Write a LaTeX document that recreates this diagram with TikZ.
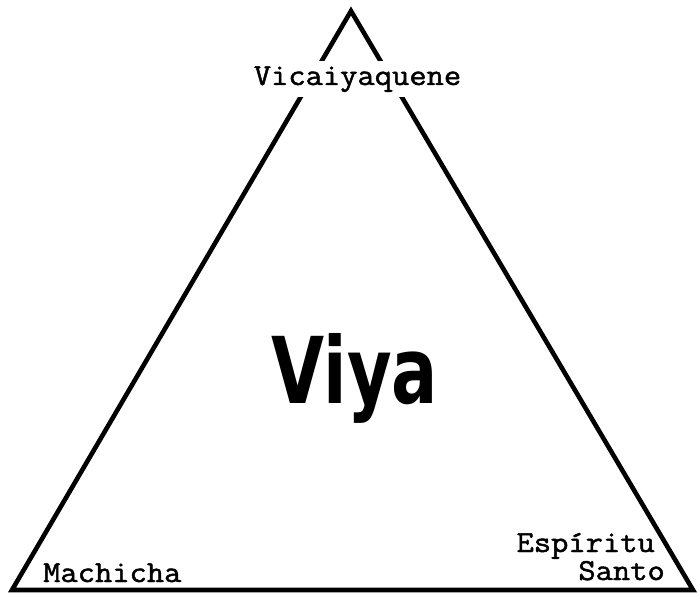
\documentclass[tikz,border=0pt]{standalone}
\usepackage{fontspec}
\newfontfamily\lblfont{Latin Modern Mono}[FakeBold=1.6, FakeStretch=1.1]
\newfontfamily\viyafont{DejaVu Sans Condensed}
\begin{document}
\begin{tikzpicture}[x=1pt,y=-1pt,
  lbl/.style={font=\lblfont\fontsize{30.5}{34}\selectfont, inner sep=0pt},
  side/.style={line width=4.6pt, line cap=round, line join=miter}]
\useasboundingbox (0,0) rectangle (697,596);
\coordinate (apex) at (351,11);
\coordinate (bl) at (12,590);
\coordinate (br) at (693,590);
\draw[side] (bl) -- (apex) -- (br) -- cycle;
\node[lbl, fill=white, inner sep=5pt, anchor=base] (top) at (357.5,85) {Vicaiyaquene};
\node[lbl, anchor=base west] (mach) at (43,582) {Machicha};
\node[lbl, anchor=base east] (esp) at (655,552) {Espíritu};
\node[lbl, anchor=base east] (santo) at (665,580) {Santo};
\node[inner sep=0pt, anchor=base] (viya) at (355,403) {\resizebox{166pt}{70pt}{\viyafont\bfseries Viya}};
\end{tikzpicture}
\end{document}
